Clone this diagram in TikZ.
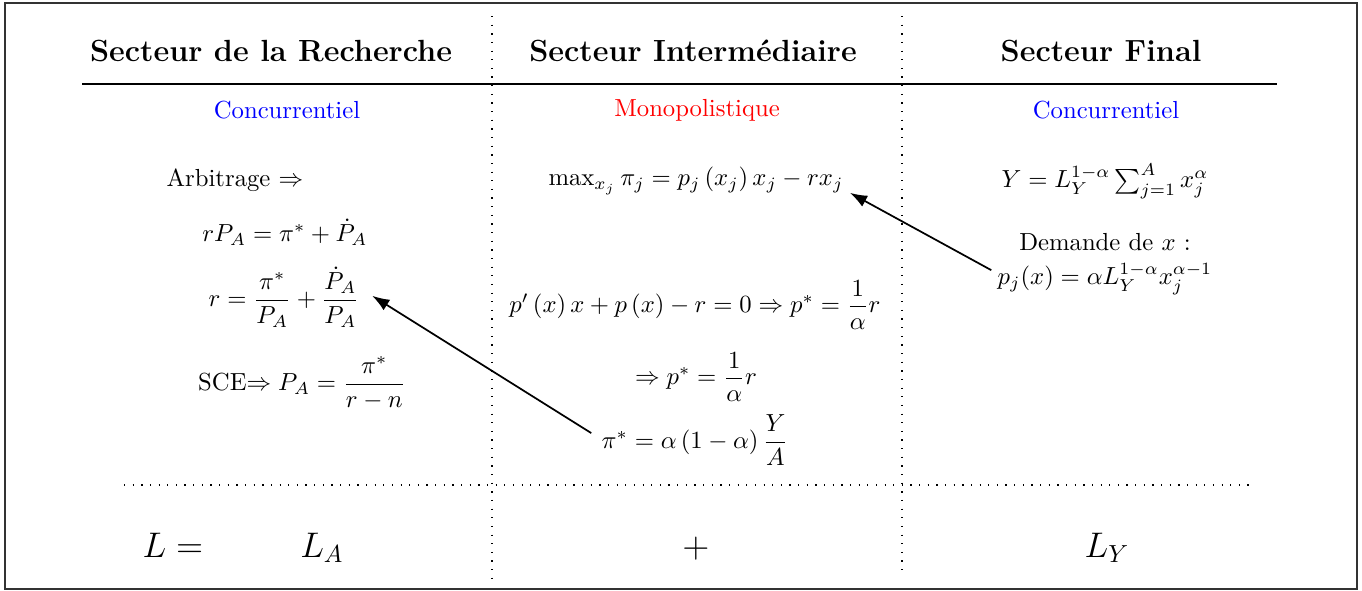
\documentclass[tikz,border=0pt]{standalone}
\usepackage{fontspec}
\usepackage{amsmath}
\usetikzlibrary{arrows.meta}
\begin{document}
\begin{tikzpicture}[x=0.405pt,y=-0.405pt,
  head/.style={font=\fontsize{12.4}{15}\selectfont\bfseries, inner sep=0},
  lbl/.style={inner sep=0, align=center},
  big/.style={font=\Large, inner sep=0, anchor=base},
  dotline/.style={line width=0.6pt, dash pattern=on 0.5pt off 3pt},
  conn/.style={line width=0.7pt, -{Latex[length=7pt,width=5pt]}}]
\useasboundingbox (0,0) rectangle (1362,591);
% frame
\draw[black!80, line width=0.5pt] (5,3) rectangle (1357,589);
% separators
\draw[dotline] (492,16) -- (492,578);
\draw[dotline] (902,16) -- (902,572);
\draw[dotline] (124,485) -- (1253,485);
\draw[line width=0.6pt] (82,84) -- (1277,84);
% headers
\node[head] (h1) at (271,51) {Secteur de la Recherche};
\node[head] (h2) at (693,51) {Secteur Interm\'ediaire};
\node[head] (h3) at (1101,51) {Secteur Final};
\node[lbl, text=blue] (t1) at (287,110) {Concurrentiel};
\node[lbl, text=red] (t2) at (697,110) {Monopolistique};
\node[lbl, text=blue] (t3) at (1106,110) {Concurrentiel};
% research sector
\node[lbl] (arb) at (235,180) {Arbitrage $\Rightarrow$};
\node[lbl] (rpa) at (285,232) {$rP_A=\pi^*+\dot{P}_A$};
\node[lbl] (rfrac) at (284,297) {$r=\dfrac{\pi^*}{P_A}+\dfrac{\dot{P}_A}{P_A}$};
\node[lbl] (sce) at (302,383) {SCE$\Rightarrow P_A=\dfrac{\pi^*}{r-n}$};
% intermediate sector
\node[lbl] (max) at (696,181) {$\max_{x_j}\pi_j=p_j\left(x_j\right)x_j-rx_j$};
\node[lbl] (foc) at (695,305) {$p'\left(x\right)x+p\left(x\right)-r=0\Rightarrow p^*=\dfrac{1}{\alpha}r$};
\node[lbl] (pstar) at (696,377) {$\Rightarrow p^*=\dfrac{1}{\alpha}r$};
\node[lbl] (pistar) at (695,440) {$\pi^*=\alpha\left(1-\alpha\right)\dfrac{Y}{A}$};
% final sector
\node[lbl] (prod) at (1105,181) {$Y=L_Y^{1-\alpha}\sum_{j=1}^{A}x_j^{\alpha}$};
\node[lbl] (dem) at (1105,264) {Demande de $x$ :\\[2pt] $p_j(x)=\alpha L_Y^{1-\alpha}x_j^{\alpha-1}$};
% labour
\node[big] (L) at (173,557) {$L=$};
\node[big] (LA) at (322,557) {$L_A$};
\node[big] (plus) at (696,557) {$+$};
\node[big] (LY) at (1107,557) {$L_Y$};
% connectors
\draw[conn] ([xshift=-4pt,yshift=2.8pt]pistar.west) -- ([xshift=5pt,yshift=0.5pt]rfrac.east);
\draw[conn] ([xshift=-2.4pt,yshift=-2.5pt]dem.west) -- ([xshift=2.4pt,yshift=0.9pt]max.south east);
\end{tikzpicture}
\end{document}
